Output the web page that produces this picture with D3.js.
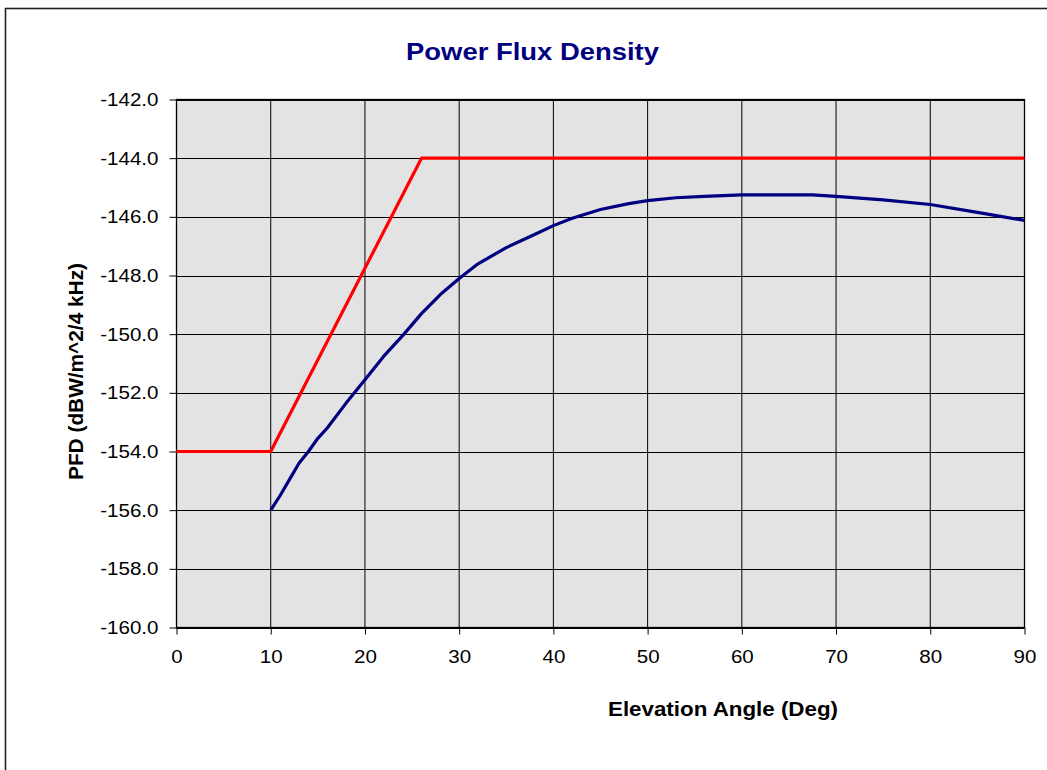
<!DOCTYPE html>
<html>
<head>
<meta charset="utf-8">
<script src="https://cdn.jsdelivr.net/npm/d3@7"></script>
<style>
  body { margin: 0; background: #fff; }
  svg { display: block; font-family: "Liberation Sans", Arial, sans-serif; }
</style>
</head>
<body>
<div id="chart"></div>
<script>
// PFD limit mask (red)
const limitAngles = [0, 10, 26, 90];
const limitValues = [-154, -154, -144, -144];

// computed PFD curve (blue)
const pfdAngles = [10, 11, 12, 13, 14, 15, 16, 18, 20, 22, 24, 26, 28, 30, 32, 35, 38, 40, 42, 45, 48, 50, 53, 56, 60, 67.5, 70, 75, 80, 85, 90];
const pfdValues = [-156.0, -155.5, -154.95, -154.4, -154.0, -153.55, -153.2, -152.35, -151.55, -150.75, -150.05, -149.3, -148.65, -148.1, -147.6, -147.05, -146.6, -146.3, -146.05, -145.75, -145.55, -145.45, -145.35, -145.3, -145.25, -145.25, -145.3, -145.42, -145.58, -145.85, -146.12];

const xTicks = [0, 10, 20, 30, 40, 50, 60, 70, 80, 90];
const yTicks = [-160, -158, -156, -154, -152, -150, -148, -146, -144, -142];

const width = 1047, height = 770;
const plot = { left: 176.5, top: 99.5, right: 1024.5, bottom: 627.5 };
const stretch = 1.11; // the original text is a little wider than Arial

const svg = d3.select('#chart').append('svg')
  .attr('width', width)
  .attr('height', height);

// outer chart frame
svg.append('rect')
  .attr('x', 5.5).attr('y', 8.5)
  .attr('width', width + 10).attr('height', height + 10)
  .attr('fill', '#fff')
  .attr('stroke', '#222')
  .attr('stroke-width', 1.6);

const x = d3.scaleLinear().domain([0, 90]).range([plot.left, plot.right]);
const y = d3.scaleLinear().domain([-160, -142]).range([plot.bottom, plot.top]);

// plot background
svg.append('rect')
  .attr('x', plot.left).attr('y', plot.top)
  .attr('width', plot.right - plot.left)
  .attr('height', plot.bottom - plot.top)
  .attr('fill', '#e3e3e3');

// gridlines
const grid = svg.append('g').attr('stroke', '#000').attr('stroke-width', 1);
grid.selectAll('line.h')
  .data(yTicks)
  .join('line')
  .attr('class', 'h')
  .attr('x1', plot.left).attr('x2', plot.right)
  .attr('y1', d => Math.round(y(d)) + 0.5).attr('y2', d => Math.round(y(d)) + 0.5);
grid.selectAll('line.v')
  .data(xTicks)
  .join('line')
  .attr('class', 'v')
  .attr('y1', plot.top).attr('y2', plot.bottom)
  .attr('x1', d => x(d)).attr('x2', d => x(d));

// plot border
svg.append('rect')
  .attr('x', plot.left).attr('y', plot.top)
  .attr('width', plot.right - plot.left)
  .attr('height', plot.bottom - plot.top)
  .attr('fill', 'none')
  .attr('stroke', '#000')
  .attr('stroke-width', 1.3);

// axes
const xAxis = svg.append('g')
  .attr('transform', `translate(0,${plot.bottom})`)
  .call(d3.axisBottom(x).tickValues(xTicks).tickSize(7).tickPadding(15).tickFormat(d3.format('d')));
const yAxis = svg.append('g')
  .attr('transform', `translate(${plot.left},0)`)
  .call(d3.axisLeft(y).tickValues(yTicks).tickSize(7).tickPadding(11).tickFormat(d => d.toFixed(1)));

[xAxis, yAxis].forEach(a => {
  a.select('.domain').remove();
  a.selectAll('.tick line').attr('stroke', '#000');
  a.selectAll('.tick text')
    .attr('fill', '#000')
    .style('font-size', '18.5px')
    .style('font-family', '"Liberation Sans", Arial, sans-serif')
    .each(function () {
      const len = this.getComputedTextLength();
      d3.select(this).attr('textLength', len * stretch).attr('lengthAdjust', 'spacingAndGlyphs');
    });
});

// series lines
const line = (xs, ys) => d3.line()
  .x((d, i) => x(xs[i]))
  .y((d, i) => y(ys[i]))(xs);

svg.append('path')
  .attr('d', line(limitAngles, limitValues))
  .attr('fill', 'none')
  .attr('stroke', '#ff0000')
  .attr('stroke-width', 3.2)
  .attr('stroke-linejoin', 'round');

svg.append('path')
  .attr('d', line(pfdAngles, pfdValues))
  .attr('fill', 'none')
  .attr('stroke', '#000080')
  .attr('stroke-width', 3.2)
  .attr('stroke-linejoin', 'round');

// titles
svg.append('text')
  .attr('x', 532.5).attr('y', 60)
  .attr('text-anchor', 'middle')
  .attr('fill', '#000080')
  .attr('textLength', 253).attr('lengthAdjust', 'spacingAndGlyphs')
  .style('font-size', '23.5px')
  .style('font-weight', 'bold')
  .text('Power Flux Density');

svg.append('text')
  .attr('x', 723).attr('y', 716)
  .attr('text-anchor', 'middle')
  .attr('fill', '#000')
  .attr('textLength', 230).attr('lengthAdjust', 'spacingAndGlyphs')
  .style('font-size', '20px')
  .style('font-weight', 'bold')
  .text('Elevation Angle (Deg)');

svg.append('text')
  .attr('transform', 'translate(83,371.5) rotate(-90)')
  .attr('text-anchor', 'middle')
  .attr('fill', '#000')
  .attr('textLength', 217).attr('lengthAdjust', 'spacingAndGlyphs')
  .style('font-size', '19.5px')
  .style('font-weight', 'bold')
  .text('PFD (dBW/m^2/4 kHz)');
</script>
</body>
</html>
